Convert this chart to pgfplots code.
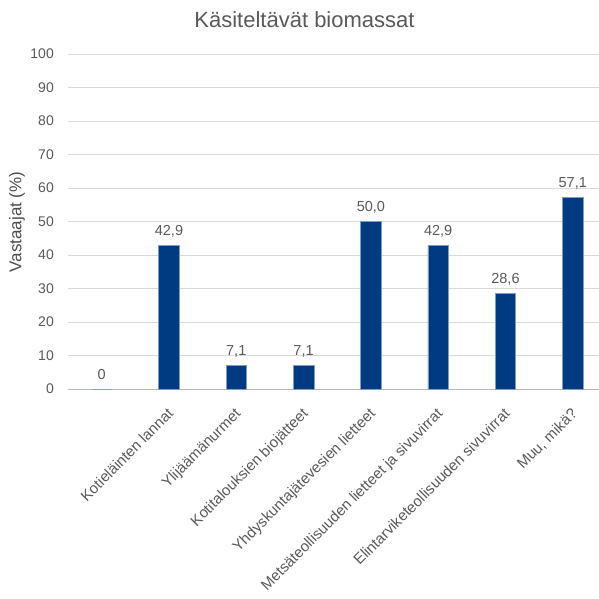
\documentclass[border=0pt]{standalone}
\usepackage{pgfplots}
\pgfplotsset{compat=1.18}
\usepackage{fontspec}
\setmainfont{Liberation Sans}
\definecolor{txt}{HTML}{595959}
\definecolor{barc}{HTML}{003A80}
\definecolor{barl}{HTML}{7F9CC8}
\definecolor{gridc}{HTML}{D9D9D9}
\pgfplotstableread{
x y lab
0 0 0
1 42.9 {42,9}
2 7.1 {7,1}
3 7.1 {7,1}
4 50.0 {50,0}
5 42.9 {42,9}
6 28.6 {28,6}
7 57.1 {57,1}
}\datatable
\begin{document}
\begin{tikzpicture}[x=1pt,y=1pt]
\useasboundingbox (0,0) rectangle (599,598);
\begin{axis}[
  at={(68pt,209pt)}, anchor=south west,
  scale only axis, width=531.7pt, height=335pt,
  xmin=-0.5, xmax=7.4, ymin=0, ymax=100,
  axis x line=bottom, axis y line=left,
  axis line style={-},
  x axis line style={draw=gridc!85!black!100, line width=1pt},
  y axis line style={draw=none},
  ytick={0,10,...,100},
  ymajorgrids, major grid style={gridc, line width=1pt},
  major tick length=0pt,
  xtick={0,...,7},
  xticklabels={{},{Kotieläinten lannat},{Ylijäämänurmet},{Kotitalouksien biojätteet},{Yhdyskuntajätevesien lietteet},{Metsäteollisuuden lietteet ja sivuvirrat},{Elintarviketeollisuuden sivuvirrat},{Muu, mikä?}},
  xticklabel style={xshift=-2.5pt, yshift=-18pt, rotate=45, anchor=north east, inner sep=0pt, font=\fontsize{15}{17}\selectfont, text=txt},
  yticklabel style={anchor=east, inner sep=0pt, xshift=-14pt, font=\fontsize{14}{16}\selectfont, text=txt},
  /pgf/number format/assume math mode=true,
  point meta=explicit symbolic,
  nodes near coords={\pgfplotspointmeta},
  nodes near coords style={anchor=base, inner sep=0pt, yshift=10pt, font=\fontsize{14.5}{16}\selectfont, text=txt},
  clip=false,
]
\addplot[ybar, bar width=20.5pt, fill=barc, draw=barl, line width=0.6pt] table[x=x, y=y, meta=lab] {\datatable};
\end{axis}
\node[anchor=base, text=txt, font=\fontsize{22}{26}\selectfont, inner sep=0pt] at (304.5,570) {Käsiteltävät biomassat};
\node[rotate=90, text=txt!85!black, font=\fontsize{17}{19}\selectfont, inner sep=0pt] at (17,376) {Vastaajat (\%)};
\end{tikzpicture}
\end{document}
